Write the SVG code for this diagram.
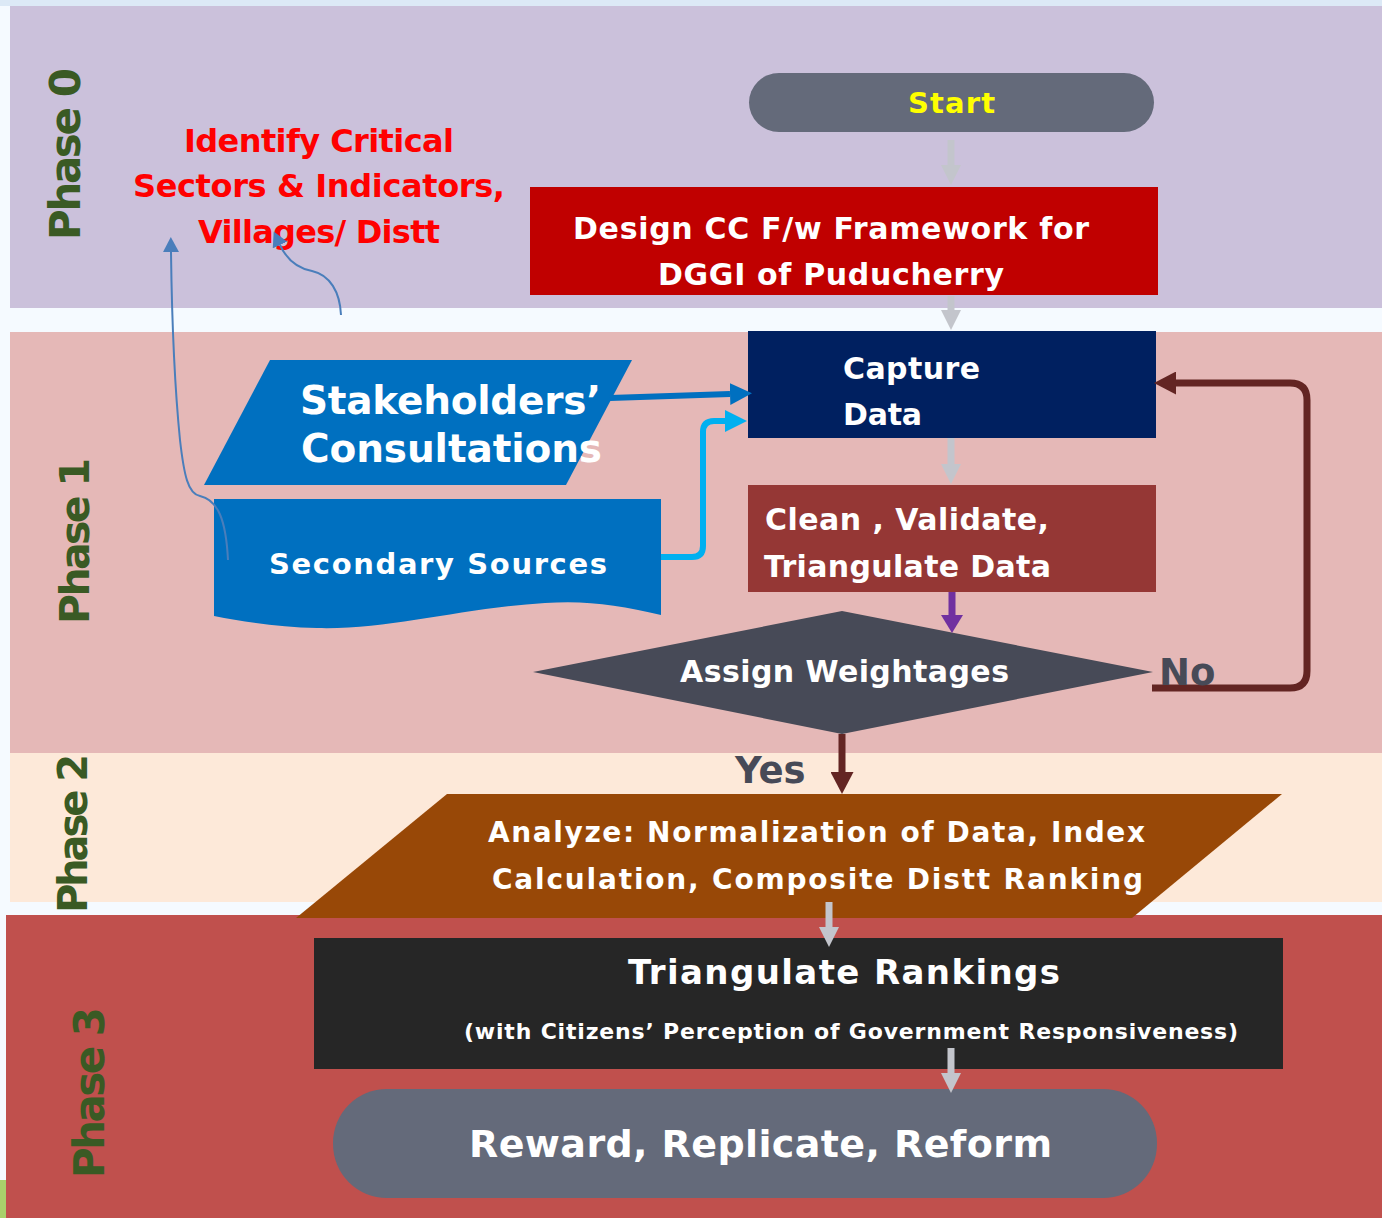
<svg xmlns="http://www.w3.org/2000/svg" width="1382" height="1218" viewBox="0 0 1382 1218">
<style>
  text { font-family: "DejaVu Sans", "Liberation Sans", Arial, sans-serif; font-weight: bold; }
  .phase { fill: #3a5a24; }
  .w { fill: #ffffff; }
  .grey { stroke: #c3c5cc; stroke-width: 7; fill: none; }
  .thin { stroke: #4a7ebb; stroke-width: 2; fill: none; }
</style>
<defs>
  <marker id="mGrey" viewBox="0 -10 20 20" refX="0" refY="0" markerWidth="20" markerHeight="20" markerUnits="userSpaceOnUse" orient="auto">
    <path d="M0,-10 L20,0 L0,10 z" fill="#c3c5cc"/>
  </marker>
  <marker id="mBlue" viewBox="0 -11 22 22" refX="0" refY="0" markerWidth="22" markerHeight="22" markerUnits="userSpaceOnUse" orient="auto">
    <path d="M0,-11 L22,0 L0,11 z" fill="#0070c0"/>
  </marker>
  <marker id="mCyan" viewBox="0 -11 22 22" refX="0" refY="0" markerWidth="22" markerHeight="22" markerUnits="userSpaceOnUse" orient="auto">
    <path d="M0,-11 L22,0 L0,11 z" fill="#00b0f0"/>
  </marker>
  <marker id="mPurple" viewBox="0 -11 18 22" refX="0" refY="0" markerWidth="18" markerHeight="22" markerUnits="userSpaceOnUse" orient="auto">
    <path d="M0,-11 L18,0 L0,11 z" fill="#7030a0"/>
  </marker>
  <marker id="mBrown" viewBox="0 -11.5 22 23" refX="0" refY="0" markerWidth="22" markerHeight="23" markerUnits="userSpaceOnUse" orient="auto">
    <path d="M0,-11.5 L22,0 L0,11.5 z" fill="#632523"/>
  </marker>
  <marker id="mThin" viewBox="0 -8 15 16" refX="0" refY="0" markerWidth="15" markerHeight="16" markerUnits="userSpaceOnUse" orient="auto">
    <path d="M0,-8 L15,0 L0,8 z" fill="#4a7ebb"/>
  </marker>
</defs>

<!-- background -->
<rect x="0" y="0" width="1382" height="1218" fill="#f5faff"/>
<rect x="0" y="0" width="1382" height="6" fill="#dce9f6"/>
<rect x="0" y="1180" width="6" height="38" fill="#a9d06b"/>

<!-- phase bands -->
<g id="bands">
  <rect x="10" y="6" width="1372" height="302" fill="#cbc1db"/>
  <rect x="10" y="332" width="1372" height="421" fill="#e5b8b7"/>
  <rect x="10" y="753" width="1372" height="149" fill="#fde9d9"/>
  <rect x="6" y="915" width="1376" height="303" fill="#c0504d"/>
</g>

<!-- phase labels -->
<g id="phase-labels">
  <text class="phase" font-size="42" transform="translate(80,240) rotate(-90)" textLength="172">Phase 0</text>
  <text class="phase" font-size="41" transform="translate(89,624) rotate(-90)" textLength="166">Phase 1</text>
  <text class="phase" font-size="40" transform="translate(87,913) rotate(-90)" textLength="159">Phase 2</text>
  <text class="phase" font-size="42" transform="translate(104,1178) rotate(-90)" textLength="171">Phase 3</text>
</g>

<!-- nodes -->
<g id="identify">
  <text x="184" y="152" font-size="32" fill="#ff0000" textLength="270">Identify Critical</text>
  <text x="133" y="197" font-size="32" fill="#ff0000" textLength="372">Sectors &amp; Indicators,</text>
  <text x="198" y="243" font-size="32" fill="#ff0000" textLength="242">Villages/ Distt</text>
</g>

<g id="start">
  <rect x="749" y="73" width="405" height="59" rx="30" ry="30" fill="#646a7a"/>
  <text x="908" y="113" font-size="29" fill="#ffff00" textLength="87">Start</text>
</g>

<g id="design">
  <rect x="530" y="187" width="628" height="108" fill="#c00000"/>
  <text class="w" x="573" y="239" font-size="30" textLength="516">Design CC F/w Framework for</text>
  <text class="w" x="658" y="285" font-size="30" textLength="346">DGGI of Puducherry</text>
</g>

<g id="capture">
  <rect x="748" y="331" width="408" height="107" fill="#002060"/>
  <text class="w" x="843" y="379" font-size="30" textLength="137">Capture</text>
  <text class="w" x="843" y="425" font-size="30" textLength="79">Data</text>
</g>

<g id="clean">
  <rect x="748" y="485" width="408" height="107" fill="#953735"/>
  <text class="w" x="765" y="530" font-size="30" textLength="284">Clean , Validate,</text>
  <text class="w" x="764" y="577" font-size="30" textLength="287">Triangulate Data</text>
</g>

<g id="stakeholders">
  <polygon points="270,360 632,360 566,485 204,485" fill="#0070c0"/>
  <text class="w" x="300" y="414" font-size="39" textLength="301">Stakeholders’</text>
  <text class="w" x="301" y="462" font-size="39" textLength="301">Consultations</text>
</g>

<g id="secondary">
  <path d="M214 499 H661 V615 C620 605 585 600 545 603 C460 608 390 630 317 628 C280 627 245 622 214 616 Z" fill="#0070c0"/>
  <text class="w" x="269" y="574" font-size="29" textLength="338">Secondary Sources</text>
</g>

<g id="assign">
  <polygon points="533,672 842,611 1153,672 842,734" fill="#474a57"/>
  <text class="w" x="680" y="682" font-size="30" textLength="329">Assign Weightages</text>
</g>

<g id="analyze">
  <polygon points="447,794 1282,794 1132,918 296,918" fill="#984807"/>
  <text class="w" x="488" y="842" font-size="28" textLength="657">Analyze: Normalization of Data, Index</text>
  <text class="w" x="492" y="889" font-size="28" textLength="651">Calculation, Composite Distt Ranking</text>
</g>

<g id="triangulate">
  <rect x="314" y="938" width="969" height="131" fill="#262626"/>
  <text class="w" x="628" y="984" font-size="34" textLength="432">Triangulate Rankings</text>
  <text class="w" x="464" y="1039" font-size="22" textLength="774">(with  Citizens’ Perception of Government Responsiveness)</text>
</g>

<g id="reward">
  <rect x="333" y="1089" width="824" height="109" rx="54" ry="54" fill="#646a7a"/>
  <text class="w" x="469" y="1157" font-size="38" textLength="583">Reward, Replicate, Reform</text>
</g>

<!-- connectors -->
<g id="connectors">
  <path class="grey" d="M951 140 V165" marker-end="url(#mGrey)"/>
  <path class="grey" d="M951 296 V310" marker-end="url(#mGrey)"/>
  <path class="grey" d="M951 438 V464" marker-end="url(#mGrey)"/>
  <path class="grey" d="M829 902 V927" marker-end="url(#mGrey)"/>
  <path class="grey" d="M951 1048 V1073" marker-end="url(#mGrey)"/>
  <path d="M952 592 V615" stroke="#7030a0" stroke-width="7" fill="none" marker-end="url(#mPurple)"/>
  <path d="M842 734 V772" stroke="#632523" stroke-width="7" fill="none" marker-end="url(#mBrown)"/>
  <path d="M1152 688 H1290 Q1307 688 1307 671 V400 Q1307 383 1290 383 H1176" stroke="#632523" stroke-width="7" fill="none" marker-end="url(#mBrown)"/>
  <path d="M610 398 L730 394" stroke="#0070c0" stroke-width="6" fill="none" marker-end="url(#mBlue)"/>
  <path d="M661 557 H692 Q703 557 703 546 V432 Q703 421 714 421 H725" stroke="#00b0f0" stroke-width="6" fill="none" marker-end="url(#mCyan)"/>
  <path class="thin" d="M228 560 C226 520 218 500 200 496 C188 494 184 475 180 440 C176 400 172 330 171 252" marker-end="url(#mThin)"/>
  <path class="thin" d="M341 315 C340 292 330 275 312 271 C296 268 286 258 280 245" marker-end="url(#mThin)"/>
  <text x="1159" y="685" font-size="37" fill="#474a57">No</text>
  <text x="735" y="783" font-size="37" fill="#474a57">Yes</text>
</g>
</svg>
